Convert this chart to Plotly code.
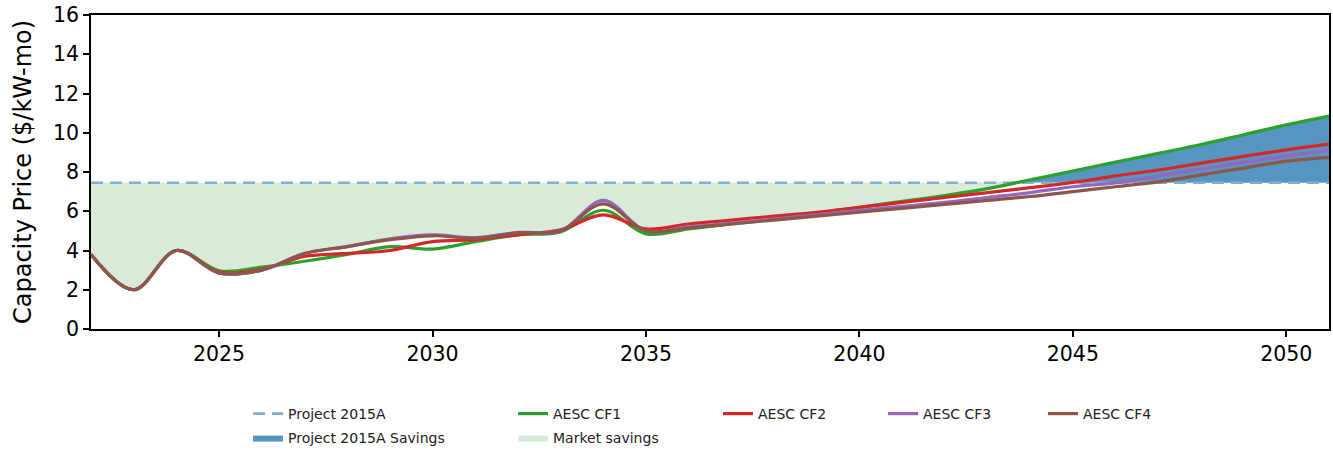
import plotly.graph_objects as go

years = list(range(2022, 2052))
strike_price = 7.45

cf1 = [3.8, 2.0, 4.0, 2.97, 3.15, 3.45, 3.8, 4.2, 4.07, 4.45, 4.8, 4.95, 6.05, 4.85,
       5.1, 5.35, 5.6, 5.9, 6.2, 6.5, 6.8, 7.15, 7.6, 8.05, 8.5, 8.95, 9.4, 9.9, 10.4, 10.85]
cf2 = [3.8, 2.0, 4.0, 2.9, 3.05, 3.7, 3.85, 4.0, 4.45, 4.55, 4.8, 5.05, 5.82, 5.1,
       5.35, 5.55, 5.75, 5.95, 6.2, 6.45, 6.7, 6.95, 7.2, 7.47, 7.8, 8.1, 8.45, 8.8, 9.13, 9.42]
cf3 = [3.8, 2.0, 4.0, 2.85, 3.0, 3.85, 4.2, 4.6, 4.8, 4.65, 4.92, 5.0, 6.55, 5.0,
       5.2, 5.4, 5.6, 5.82, 6.05, 6.25, 6.45, 6.7, 6.95, 7.25, 7.45, 7.8, 8.15, 8.5, 8.82, 9.1]
cf4 = [3.8, 2.0, 4.0, 2.85, 3.0, 3.85, 4.2, 4.55, 4.75, 4.63, 4.9, 5.0, 6.38, 5.0,
       5.15, 5.35, 5.55, 5.75, 5.95, 6.15, 6.35, 6.55, 6.75, 7.0, 7.25, 7.5, 7.85, 8.2, 8.55, 8.75]

series_names = ["AESC CF1", "AESC CF2", "AESC CF3", "AESC CF4"]
series_colors = ["#2ca02c", "#d62728", "#9467bd", "#8c564b"]
series_values = [cf1, cf2, cf3, cf4]

strike = [strike_price] * len(years)
envelope = [max(v) for v in zip(cf1, cf2, cf3, cf4)]
market_low = [min(e, strike_price) for e in envelope]
savings_high = [max(g, strike_price) for g in cf1]

fig = go.Figure()

# Project 2015A savings (blue)
fig.add_trace(go.Scatter(x=years, y=strike, mode="lines", line=dict(width=0, shape="spline"),
                         showlegend=False, hoverinfo="skip"))
fig.add_trace(go.Scatter(x=years, y=savings_high, mode="lines", fill="tonexty",
                         fillcolor="rgb(86,150,192)", line=dict(width=0, shape="spline"),
                         name="Project 2015A Savings", legend="legend2"))
# Market savings (light green)
fig.add_trace(go.Scatter(x=years, y=strike, mode="lines", line=dict(width=0, shape="spline"),
                         showlegend=False, hoverinfo="skip"))
fig.add_trace(go.Scatter(x=years, y=market_low, mode="lines", fill="tonexty",
                         fillcolor="rgb(217,234,216)", line=dict(width=0, shape="spline"),
                         name="Market savings", legend="legend4"))

# Project 2015A dashed line
fig.add_trace(go.Scatter(x=years, y=strike, mode="lines",
                         line=dict(color="rgb(128,176,206)", width=2.6, dash="12px,7px"),
                         name="Project 2015A", legend="legend"))

legend_ids = ["legend3", "legend5", "legend6", "legend7"]
for name, color, vals, lid in zip(series_names, series_colors, series_values, legend_ids):
    fig.add_trace(go.Scatter(x=years, y=vals, mode="lines",
                             line=dict(color=color, width=3.2, shape="spline"),
                             name=name, legend=lid))

L, R, T, B = 91, 4, 15, 121
W, H = 1333, 450
PW = W - L - R

leg_font = dict(family="DejaVu Sans", size=14, color="#222")
row1, row2 = 398, 422
legend_pos = {
    "legend": (248, row1),
    "legend2": (248, row2),
    "legend3": (513, row1),
    "legend4": (513, row2),
    "legend5": (718, row1),
    "legend6": (883, row1),
    "legend7": (1043, row1),
}
legend_layout = {}
for lid, (px, py) in legend_pos.items():
    legend_layout[lid] = dict(x=px / W, y=(H - py) / H, xref="container", yref="container",
                              xanchor="left", yanchor="top",
                              bgcolor="rgba(0,0,0,0)", font=leg_font)

axis_font = dict(family="DejaVu Sans", size=20.5, color="black")
fig.update_layout(
    width=W, height=H,
    margin=dict(l=L, r=R, t=T, b=B, autoexpand=False),
    plot_bgcolor="white", paper_bgcolor="white",
    xaxis=dict(range=[2022, 2051], tickvals=[2025, 2030, 2035, 2040, 2045, 2050],
               showgrid=False, zeroline=False, showline=True, mirror=True,
               linecolor="black", linewidth=1.5, ticks="outside", ticklen=6,
               tickcolor="black", tickwidth=1.5, tickfont=axis_font),
    yaxis=dict(range=[0, 16], dtick=2, showgrid=False, zeroline=False, showline=True,
               mirror=True, linecolor="black", linewidth=1.5,
               ticks="outside", ticklen=6,
               tickcolor="black", tickwidth=1.5, tickfont=axis_font),
    annotations=[dict(text="Capacity Price ($/kW-mo)", textangle=-90, showarrow=False,
                      xref="paper", yref="paper", x=(23 - L) / PW, y=0.5,
                      xanchor="center", yanchor="middle",
                      font=dict(family="DejaVu Sans", size=24, color="black"))],
    **legend_layout,
)

fig.write_html("out.html", config={"displayModeBar": False},
               post_script="document.body.style.margin='0';")
